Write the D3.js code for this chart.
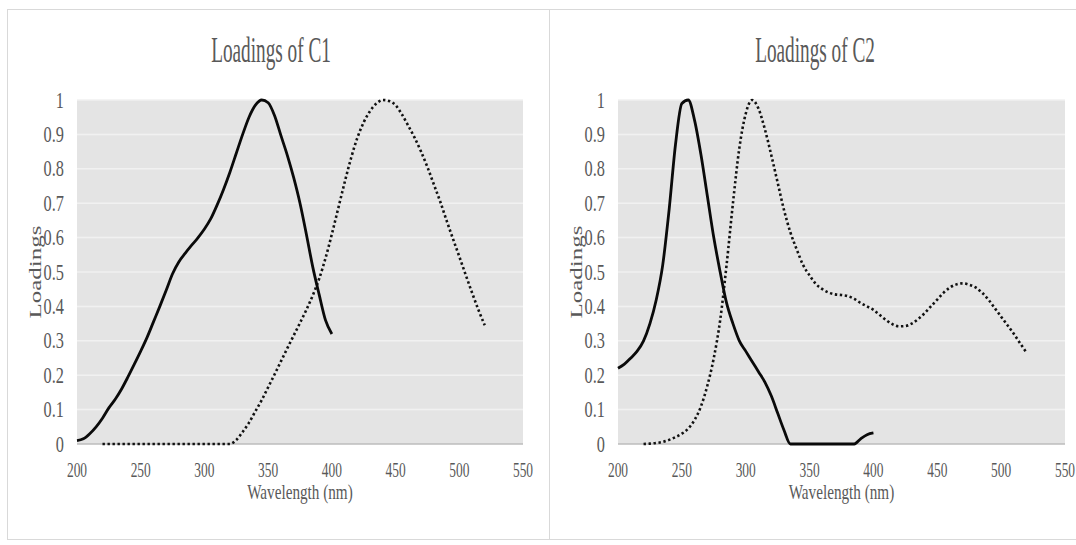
<!DOCTYPE html>
<html>
<head>
<meta charset="utf-8">
<script src="https://cdn.jsdelivr.net/npm/d3@7"></script>
<style>
  html, body { margin: 0; padding: 0; background: #ffffff; }
  svg { display: block; }
</style>
</head>
<body>
<svg id="chart" width="1076" height="545"></svg>
<script>
// Excitation wavelengths (nm), 5 nm steps
const excitationWavelengths = d3.range(200, 401, 5);
// Emission wavelengths (nm), 5 nm steps
const emissionWavelengths = d3.range(220, 521, 5);

// Component C1 loadings
const c1Excitation = [
  0.010, 0.015, 0.030, 0.050, 0.075, 0.105, 0.130, 0.160, 0.195, 0.232,
  0.270, 0.310, 0.355, 0.400, 0.447, 0.495, 0.530, 0.555, 0.578, 0.600,
  0.625, 0.655, 0.695, 0.740, 0.790, 0.845, 0.900, 0.950, 0.985, 1.000,
  0.992, 0.955, 0.897, 0.840, 0.775, 0.700, 0.610, 0.515, 0.435, 0.360,
  0.320
];
const c1Emission = [
  0, 0, 0, 0, 0, 0, 0, 0, 0, 0,
  0, 0, 0, 0, 0, 0, 0, 0, 0, 0,
  0, 0.012, 0.035, 0.062, 0.095, 0.128, 0.165, 0.202, 0.240, 0.278,
  0.315, 0.352, 0.390, 0.432, 0.480, 0.540, 0.610, 0.685, 0.760, 0.830,
  0.890, 0.935, 0.968, 0.990, 1.000, 0.997, 0.985, 0.958, 0.925, 0.890,
  0.850, 0.805, 0.755, 0.705, 0.650, 0.597, 0.545, 0.492, 0.440, 0.390,
  0.345
];

// Component C2 loadings
const c2Excitation = [
  0.220, 0.232, 0.250, 0.270, 0.300, 0.350, 0.420, 0.520, 0.680, 0.870,
  0.990, 1.000, 0.940, 0.840, 0.720, 0.600, 0.500, 0.410, 0.350, 0.300,
  0.270, 0.240, 0.210, 0.180, 0.140, 0.090, 0.040, 0, 0, 0,
  0, 0, 0, 0, 0, 0, 0, 0, 0.015, 0.027,
  0.032
];
const c2Emission = [
  0.000, 0.001, 0.003, 0.006, 0.012, 0.020, 0.030, 0.045, 0.070, 0.110,
  0.170, 0.250, 0.360, 0.520, 0.700, 0.860, 0.960, 1.000, 0.975, 0.915,
  0.840, 0.760, 0.680, 0.615, 0.565, 0.520, 0.490, 0.465, 0.450, 0.440,
  0.435, 0.433, 0.430, 0.422, 0.410, 0.400, 0.390, 0.375, 0.360, 0.348,
  0.342, 0.343, 0.350, 0.363, 0.380, 0.400, 0.420, 0.440, 0.455, 0.464,
  0.467, 0.463, 0.455, 0.440, 0.420, 0.395, 0.370, 0.345, 0.320, 0.292,
  0.265
];

// Axis ticks and labels
const xTicks = [200, 250, 300, 350, 400, 450, 500, 550];
const yTicks = [0, 0.1, 0.2, 0.3, 0.4, 0.5, 0.6, 0.7, 0.8, 0.9, 1];
const yTickLabels = ["0", "0.1", "0.2", "0.3", "0.4", "0.5", "0.6", "0.7", "0.8", "0.9", "1"];
const panelTitles = ["Loadings of C1", "Loadings of C2"];
const xAxisTitle = "Wavelength (nm)";
const yAxisTitle = "Loadings";

const panels = [
  { title: panelTitles[0], ex: c1Excitation, em: c1Emission,
    frameX: 7, frameW: 542, plotX: 77, plotW: 446, titleX: 271 },
  { title: panelTitles[1], ex: c2Excitation, em: c2Emission,
    frameX: 549, frameW: 560, plotX: 618, plotW: 447, titleX: 815 }
];

const plotTop = 100, plotBottom = 444;
const textColor = "#595959";
const fontFamily = "'Liberation Serif', 'Times New Roman', serif";

const svg = d3.select("#chart");

// Horizontally condensed text (narrow serif look)
function condensedText(g, x, y, str, size, sx, anchor, rotated) {
  return g.append("text")
    .attr("transform", rotated
      ? `translate(${x},${y}) rotate(-90) scale(1,${sx})`
      : `translate(${x},${y}) scale(${sx},1)`)
    .attr("text-anchor", anchor)
    .attr("font-family", fontFamily)
    .attr("font-size", size)
    .attr("fill", textColor)
    .text(str);
}

panels.forEach(p => {
  const g = svg.append("g");

  // Chart frame
  g.append("rect")
    .attr("x", p.frameX + 0.5).attr("y", 9.5)
    .attr("width", p.frameW).attr("height", 530)
    .attr("fill", "none").attr("stroke", "#d9d9d9").attr("stroke-width", 1);

  const x = d3.scaleLinear().domain([200, 550]).range([p.plotX, p.plotX + p.plotW]);
  const y = d3.scaleLinear().domain([0, 1]).range([plotBottom, plotTop]);

  // Plot area
  g.append("rect")
    .attr("x", p.plotX).attr("y", plotTop)
    .attr("width", p.plotW).attr("height", plotBottom - plotTop)
    .attr("fill", "#e4e4e4");

  // Horizontal gridlines
  g.append("g").selectAll("line")
    .data(yTicks.filter(v => v > 0))
    .join("line")
    .attr("x1", p.plotX).attr("x2", p.plotX + p.plotW)
    .attr("y1", d => y(d)).attr("y2", d => y(d))
    .attr("stroke", "#f1f1f1").attr("stroke-width", 1.5);

  // Baseline
  g.append("line")
    .attr("x1", p.plotX).attr("x2", p.plotX + p.plotW)
    .attr("y1", y(0)).attr("y2", y(0))
    .attr("stroke", "#bdbdbd").attr("stroke-width", 1.5);

  // Y tick labels
  yTicks.forEach((v, i) => {
    condensedText(g, p.plotX - 13, y(v) + 7.5, yTickLabels[i], 23, 0.71, "end", false);
  });

  // X tick labels
  xTicks.forEach(v => {
    condensedText(g, x(v), 477, String(v), 21, 0.64, "middle", false);
  });

  // Titles
  condensedText(g, p.titleX, 62, p.title, 35, 0.55, "middle", false);
  condensedText(g, p.plotX + p.plotW / 2, 499, xAxisTitle, 20, 0.76, "middle", false);
  condensedText(g, p.plotX - 36, (plotTop + plotBottom) / 2, yAxisTitle, 25, 0.64, "middle", true);

  const line = d3.line()
    .x(d => x(d[0]))
    .y(d => y(d[1]))
    .curve(d3.curveMonotoneX);

  // Emission (dotted)
  g.append("path")
    .datum(d3.zip(emissionWavelengths, p.em))
    .attr("d", line)
    .attr("fill", "none")
    .attr("stroke", "#111111")
    .attr("stroke-width", 2.6)
    .attr("stroke-dasharray", "2.4,2.6");

  // Excitation (solid)
  g.append("path")
    .datum(d3.zip(excitationWavelengths, p.ex))
    .attr("d", line)
    .attr("fill", "none")
    .attr("stroke", "#0a0a0a")
    .attr("stroke-width", 2.8)
    .attr("stroke-linejoin", "round");
});
</script>
</body>
</html>
